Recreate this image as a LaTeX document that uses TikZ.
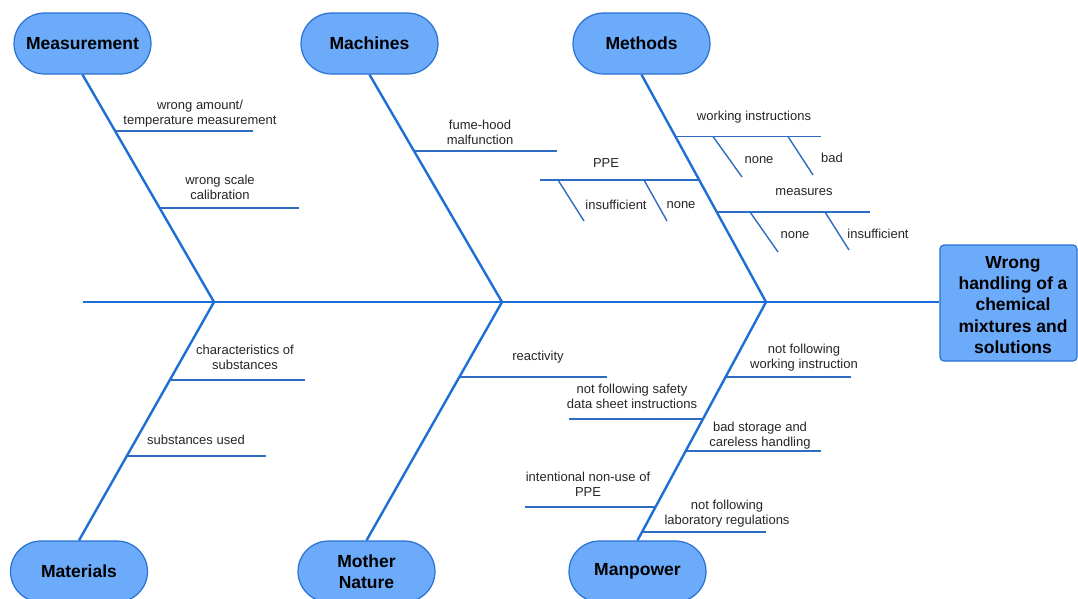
\documentclass[tikz,border=0pt]{standalone}
\usepackage{fontspec}
\setmainfont{Liberation Sans}
\usetikzlibrary{shapes.misc}
\definecolor{bone}{RGB}{30,110,215}
\definecolor{subbone}{RGB}{45,108,195}
\definecolor{nodefill}{RGB}{108,170,250}
\definecolor{nodedraw}{RGB}{40,112,210}
\begin{document}
\begin{tikzpicture}[x=1pt,y=-1pt,
 cat/.style={rounded rectangle, draw=nodedraw, fill=nodefill, line width=1.2pt,
   minimum width=137pt, minimum height=61pt,
   font=\fontsize{17.5}{21.5}\selectfont\bfseries, align=center, inner sep=0pt},
 effbox/.style={draw=nodedraw, fill=nodefill, line width=1.2pt, rounded corners=4pt,
   minimum width=137pt, minimum height=116pt, inner sep=0pt},
 efftext/.style={font=\fontsize{17.5}{21.3}\selectfont\bfseries, align=center, inner sep=0pt},
 spinel/.style={draw=bone, line width=2.8pt},
 bonel/.style={draw=bone, line width=2.4pt},
 subl/.style={draw=subbone, line width=1.4pt},
 lbl/.style={font=\fontsize{13}{15}\selectfont, text=black!85, align=center, inner sep=0pt}
]
\clip (0,0) rectangle (1078,598);
\fill[white] (0,0) rectangle (1078,598);

% category nodes
\node[cat] (meas) at (82.5,43.5) {Measurement};
\node[cat] (mach) at (369.5,43.5) {Machines};
\node[cat] (meth) at (641.5,43.5) {Methods};
\node[cat] (mat) at (79,571.5) {Materials};
\node[cat] (mn) at (366.5,571.5) {Mother\\Nature};
\node[cat] (man) at (637.5,571.5) {Manpower};

% effect
\node[effbox] (eff) at (1008.5,303) {};
\node[efftext] (efft) at (1013,305) {Wrong\\handling of a\\chemical\\mixtures and\\solutions};

% spine and bones
\coordinate (tail) at (83,302);
\coordinate (j1) at (214,302);
\coordinate (j2) at (502,302);
\coordinate (j3) at (766,302);
\draw[spinel] (tail) -- (eff.west |- tail);
\draw[bonel] (meas.south) -- (j1);
\draw[bonel] (mach.south) -- (j2);
\draw[bonel] (meth.south) -- (j3);
\draw[bonel] (mat.north) -- (j1);
\draw[bonel] (mn.north) -- (j2);
\draw[bonel] (man.north) -- (j3);

% Measurement
\draw[subl] (115,131) -- (253,131);
\node[lbl] (l1) at (200,114) {wrong amount/\\temperature measurement};
\draw[subl] (159.6,208) -- (299,208);
\node[lbl] (l2) at (220,187.5) {wrong scale\\calibration};

% Machines
\draw[subl] (414.6,151) -- (557,151);
\node[lbl] (l3) at (480,132.5) {fume-hood\\malfunction};

% Methods
\draw[subl] (676,136.5) -- (821,136.5);
\node[lbl] (l4) at (754,117) {working instructions};
\draw[subl] (713,136.5) -- (742,177);
\node[lbl] (l5) at (759,160) {none};
\draw[subl] (788,136.5) -- (813,175);
\node[lbl] (l6) at (832,158) {bad};

\draw[subl] (699.5,180) -- (540,180);
\node[lbl] (l7) at (606,163) {PPE};
\draw[subl] (558,180) -- (584,221);
\node[lbl] (l8) at (616,205) {insufficient};
\draw[subl] (644,180) -- (667,221);
\node[lbl] (l9) at (681,205) {none};

\draw[subl] (717,212) -- (870,212);
\node[lbl] (l10) at (804,192) {measures};
\draw[subl] (750,212) -- (778,252);
\node[lbl] (l11) at (795,235) {none};
\draw[subl] (825,212) -- (849,250);
\node[lbl] (l12) at (878,234) {insufficient};

% Materials
\draw[subl] (170,380) -- (305,380);
\node[lbl] (l13) at (245,357.5) {characteristics of\\substances};
\draw[subl] (127,456) -- (266,456);
\node[lbl] (l14) at (196,440) {substances used};

% Mother Nature
\draw[subl] (459.5,377) -- (607,377);
\node[lbl] (l15) at (538,357) {reactivity};

% Manpower
\draw[subl] (725.7,377) -- (851,377);
\node[lbl] (l16) at (804,357.5) {not following\\working instruction};
\draw[subl] (703,419) -- (569,419);
\node[lbl] (l17) at (632,396.5) {not following safety\\data sheet instructions};
\draw[subl] (686,451) -- (821,451);
\node[lbl] (l18) at (760,435.5) {bad storage and\\careless handling};
\draw[subl] (656,507) -- (525,507);
\node[lbl] (l19) at (588,484.5) {intentional non-use of\\PPE};
\draw[subl] (642,532) -- (766,532);
\node[lbl] (l20) at (727,513.5) {not following\\laboratory regulations};
\end{tikzpicture}
\end{document}
